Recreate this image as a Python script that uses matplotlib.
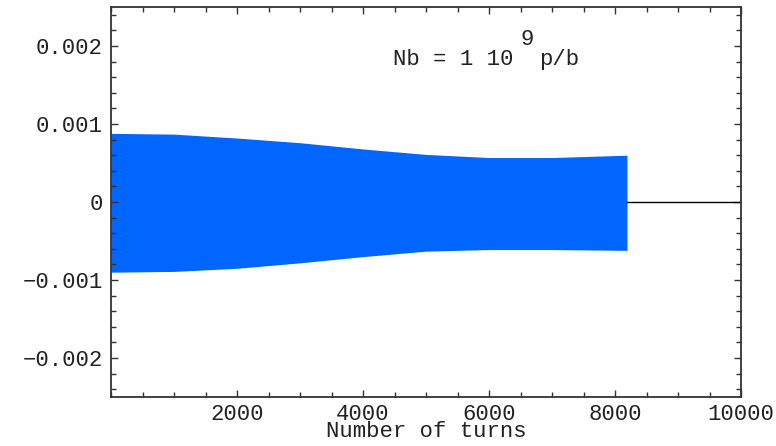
"""
Beam oscillation envelope vs number of turns (Nb = 1e9 p/b)
"""
import numpy as np
import matplotlib
matplotlib.use('Agg')
import matplotlib.pyplot as plt
from matplotlib.ticker import MultipleLocator

matplotlib.rcParams['font.family'] = ['Liberation Mono', 'DejaVu Sans Mono']

# envelope of the oscillation
turns = [0, 1000, 2000, 3000, 4000, 5000, 6000, 7000, 8190]
upper = [0.00088, 0.00087, 0.00082, 0.00076, 0.00068, 0.00061, 0.00057, 0.00057, 0.00060]
lower = [-0.00090, -0.00089, -0.00085, -0.00078, -0.00070, -0.00063, -0.00061, -0.00061, -0.00062]

# flat tail after the beam is gone
tail_turns = [8190, 10000]
tail_vals = [0.0, 0.0]

xticks = [2000, 4000, 6000, 8000, 10000]
xtick_labels = ['2000', '4000', '6000', '8000', '10000']
yticks = [-0.002, -0.001, 0.0, 0.001, 0.002]
ytick_labels = ['\u22120.002', '\u22120.001', '0', '0.001', '0.002']

fig = plt.figure(figsize=(7.76, 4.46), dpi=100)
ax = fig.add_axes([111 / 776, 1 - 397 / 446, 630 / 776, 390 / 446])

ax.fill_between(turns, lower, upper, color='#0066ff', lw=0)
ax.plot(tail_turns, tail_vals, color='black', lw=1.0)

ax.set_xlim(0, 10000)
ax.set_ylim(-0.0025, 0.0025)

ax.set_xticks(xticks)
ax.set_xticklabels(xtick_labels)
ax.set_yticks(yticks)
ax.set_yticklabels(ytick_labels)
ax.xaxis.set_minor_locator(MultipleLocator(500))
ax.yaxis.set_minor_locator(MultipleLocator(0.0002))

ax.tick_params(which='both', direction='in', top=True, right=True,
               color='#333333', width=1.0, labelsize=16, labelcolor='#222222')
ax.tick_params(which='major', length=5)
ax.tick_params(which='minor', length=3.5)
ax.tick_params(axis='y', pad=6)
ax.tick_params(axis='x', pad=5)

for sp in ax.spines.values():
    sp.set_color('#333333')
    sp.set_linewidth(1.3)

ax.set_xlabel('Number of turns', fontsize=16, color='#222222', labelpad=-3)

# annotation, with the exponent as a raised number
txt = dict(fontsize=16, color='#222222', ha='left', va='baseline')
ax.text(4476, 0.00176, 'Nb = 1 10', **txt)
ax.text(6500, 0.00201, '9', **txt)
ax.text(6794, 0.00176, 'p/b', **txt)

fig.savefig('out.png', dpi=100, facecolor='white')
plt.close(fig)
